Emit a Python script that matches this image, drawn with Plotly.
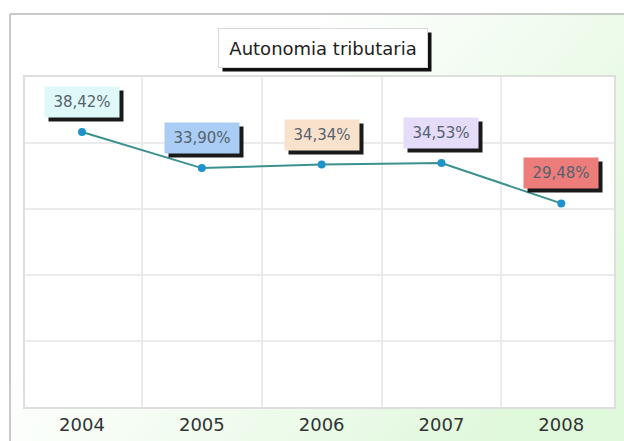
import base64
import plotly.graph_objects as go

years = ["2004", "2005", "2006", "2007", "2008"]
values = [38.42, 33.90, 34.34, 34.53, 29.48]
value_labels = ["38,42%", "33,90%", "34,34%", "34,53%", "29,48%"]
label_colors = ["#def9f7", "#a9cdf4", "#f9e2cc", "#e4dcf9", "#ec7d7b"]
title_text = "Autonomia tributaria"

W, H = 624, 441
L, R, T, B = 25, 10, 77, 34
PW, PH = W - L - R, H - T - B

def px_x(px):
    return (px - L) / PW

def px_y(py):
    return (H - B - py) / PH

svg = (
    f'<svg xmlns="http://www.w3.org/2000/svg" width="{W}" height="{H}">'
    '<defs><linearGradient id="g" x1="0" y1="0" x2="1" y2="0.6">'
    '<stop offset="0.35" stop-color="#ffffff"/><stop offset="1" stop-color="#e0f8dc"/>'
    '</linearGradient></defs>'
    f'<rect x="0" y="0" width="{W}" height="{H}" fill="#ffffff"/>'
    f'<rect x="10" y="14" width="{W}" height="{H}" fill="url(#g)"/>'
    f'<line x1="10" y1="14" x2="10" y2="{H}" stroke="#c9c9c9" stroke-width="2"/>'
    f'<line x1="10" y1="14" x2="{W}" y2="14" stroke="#c9c9c9" stroke-width="2"/>'
    f'<rect x="{L}" y="{T}" width="{PW}" height="{PH}" fill="#ffffff"/>'
    '</svg>'
)
bg_uri = "data:image/svg+xml;base64," + base64.b64encode(svg.encode()).decode()

fig = go.Figure()
fig.add_trace(go.Scatter(
    x=years, y=values, mode="lines+markers",
    line=dict(color="#3a9190", width=2),
    marker=dict(color="#1f93c9", size=8),
    hoverinfo="skip", showlegend=False,
))

LABEL_FONT = "DejaVu Sans"
annotations = []
for i, (v, lab, col) in enumerate(zip(values, value_labels, label_colors)):
    common = dict(x=i, y=v, xref="x", yref="y", text=lab, showarrow=False,
                  xanchor="center", yanchor="middle",
                  width=64, height=20, borderpad=5, align="center")
    annotations.append(dict(common, xshift=4, yshift=26, bgcolor="#1a1a1a",
                            font=dict(family=LABEL_FONT, size=15, color="#1a1a1a")))
    annotations.append(dict(common, xshift=0, yshift=30, bgcolor=col,
                            font=dict(family=LABEL_FONT, size=15, color="#56616e")))

tcommon = dict(xref="paper", yref="paper", x=px_x(323), y=px_y(48), text=title_text,
               showarrow=False, xanchor="center", yanchor="middle",
               width=196, height=26, borderpad=6)
annotations.append(dict(tcommon, xshift=4, yshift=-4, bgcolor="#111111",
                        font=dict(family="DejaVu Sans", size=18, color="#111111")))
annotations.append(dict(tcommon, bgcolor="#ffffff", bordercolor="#d8d8d8", borderwidth=1,
                        font=dict(family="DejaVu Sans", size=18, color="#1e1e1e")))

y_lo, y_hi = 4.0, 45.3
fig.update_layout(
    width=W, height=H,
    margin=dict(l=L, r=R, t=T, b=B),
    paper_bgcolor="#ffffff",
    plot_bgcolor="#ffffff",
    annotations=annotations,
    images=[dict(source=bg_uri, xref="paper", yref="paper",
                 x=px_x(0), y=px_y(0), sizex=W / PW, sizey=H / PH,
                 xanchor="left", yanchor="top", sizing="stretch", layer="below")],
    xaxis=dict(
        type="category", range=[-0.476, 4.44], tickson="boundaries",
        showgrid=True, gridcolor="#ebebeb", gridwidth=2,
        showline=True, linecolor="#dedede", linewidth=2, mirror=True,
        ticks="", automargin=False,
        tickfont=dict(family="DejaVu Sans", size=18, color="#333333"),
        fixedrange=True,
    ),
    yaxis=dict(
        range=[y_lo, y_hi], tick0=y_lo, dtick=(y_hi - y_lo) / 5,
        showgrid=True, gridcolor="#ebebeb", gridwidth=2,
        showticklabels=False, zeroline=False, automargin=False,
        showline=True, linecolor="#dedede", linewidth=2, mirror=True,
        fixedrange=True,
    ),
)

fig.write_html("out.html", config={"displayModeBar": False},
               post_script="document.body.style.margin='0';document.body.style.overflow='hidden';")
